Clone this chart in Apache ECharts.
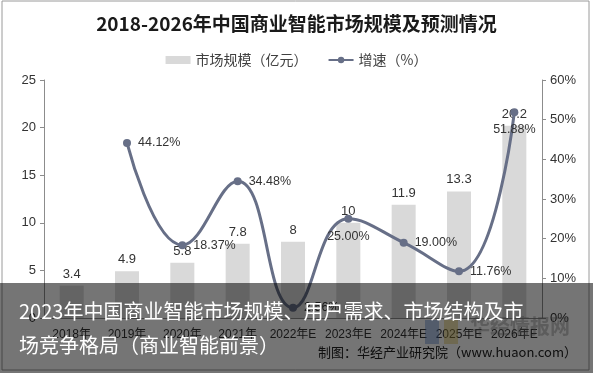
<!DOCTYPE html>
<html><head><meta charset="utf-8">
<script src="https://cdn.jsdelivr.net/npm/echarts@6/dist/echarts.min.js"></script>
<style>html,body{margin:0;padding:0;background:#fff}#c{width:593px;height:373px}</style>
</head><body><div id="c"></div>
<script>
const categories = ['2018年','2019年','2020年','2021年','2022年E','2023年E','2024年E','2025年E','2026年E'];
const marketSize = [3.4, 4.9, 5.8, 7.8, 8, 10, 11.9, 13.3, 20.2];
const growthRate = [null, 44.12, 18.37, 34.48, 2.56, 25.00, 19.00, 11.76, 51.88];
const growthLabelPos = [null, 'right', 'right', 'right', 'right', 'bottom', 'right', 'right', 'bottom'];
const leftTicks = [0, 25, 5];
const rightTicks = [0, 60, 10];
const titleText = '2018-2026年中国商业智能市场规模及预测情况';
const overlayLines = ['2023年中国商业智能市场规模、用户需求、市场结构及市', '场竞争格局（商业智能前景）'];
const sourceText = '制图：华经产业研究院（www.huaon.com）';

const FONT = '"Liberation Sans", "Noto Sans CJK SC", sans-serif';
const CJK = '"Noto Sans CJK SC", sans-serif';
const lineColor = '#676f87';

const chart = echarts.init(document.getElementById('c'));
chart.setOption({
  animation: false,
  backgroundColor: '#fff',
  title: {
    text: titleText, left: 'center', top: 9,
    textStyle: { fontFamily: CJK, fontSize: 19, fontWeight: 'bold', color: '#1a1a1a' }
  },
  legend: {
    top: 48, left: 'center', itemGap: 20, itemWidth: 25, itemHeight: 8,
    textStyle: { fontFamily: CJK, fontSize: 14, color: '#404040' },
    data: [
      { name: '市场规模（亿元）', icon: 'rect' },
      { name: '增速（%）' }
    ]
  },
  grid: { left: 44, right: 51, top: 80, bottom: 55 },
  xAxis: {
    type: 'category', data: categories,
    axisLine: { lineStyle: { color: '#8c8c8c' } },
    axisTick: { show: false },
    axisLabel: { fontFamily: FONT, fontSize: 12, color: '#333', margin: 11, interval: 0 }
  },
  yAxis: [
    {
      type: 'value', min: leftTicks[0], max: leftTicks[1], interval: leftTicks[2],
      axisLine: { show: true, lineStyle: { color: '#8c8c8c' } },
      axisTick: { show: true, length: 4, lineStyle: { color: '#8c8c8c' } },
      axisLabel: { fontFamily: FONT, fontSize: 13, color: '#333', margin: 8 },
      splitLine: { show: false }
    },
    {
      type: 'value', min: rightTicks[0], max: rightTicks[1], interval: rightTicks[2], position: 'right',
      axisLine: { show: true, lineStyle: { color: '#8c8c8c' } },
      axisTick: { show: true, length: 4, lineStyle: { color: '#8c8c8c' } },
      axisLabel: { fontFamily: FONT, fontSize: 13, color: '#333', margin: 8, formatter: '{value}%' },
      splitLine: { show: false }
    }
  ],
  series: [
    {
      name: '市场规模（亿元）', type: 'bar', data: marketSize, barWidth: 24,
      itemStyle: { color: '#d9d9d9' },
      label: { show: true, position: 'top', distance: 5, fontFamily: FONT, fontSize: 13, color: '#333' }
    },
    {
      name: '增速（%）', type: 'line', yAxisIndex: 1, smooth: 0.45, connectNulls: false,
      data: growthRate.map((v, i) => v === null ? null : {
        value: v,
        label: { position: growthLabelPos[i] }
      }),
      symbol: 'circle', symbolSize: 8,
      lineStyle: { color: lineColor, width: 3 },
      itemStyle: { color: lineColor },
      label: {
        show: true, distance: 7, fontFamily: FONT, fontSize: 12.5, color: '#333',
        formatter: p => p.value.toFixed(2) + '%'
      },
      z: 3
    }
  ],
  graphic: [
    { type: 'rect', z: 50, shape: { x: 2, y: 1, width: 587, height: 369 }, style: { fill: 'none', stroke: '#9a9a9a', lineWidth: 1 } },
    { type: 'text', z: 50, right: 16, top: 346, style: { text: sourceText, fontFamily: CJK, fontSize: 13, fill: '#222' } },
    { type: 'rect', z: 51, shape: { x: 425, y: 320, width: 14, height: 24 }, style: { fill: 'rgba(70,120,200,0.4)' } },
    { type: 'rect', z: 51, shape: { x: 444, y: 320, width: 14, height: 24 }, style: { fill: 'rgba(220,190,60,0.4)' } },
    { type: 'text', z: 51, left: 470, top: 316, style: { text: '华经情报网', fontFamily: CJK, fontSize: 20, fontWeight: 'bold', fill: 'rgba(120,120,120,0.4)' } },
    { type: 'rect', z: 100, shape: { x: 0, y: 283, width: 593, height: 90 }, style: { fill: 'rgba(0,0,0,0.54)' } },
    { type: 'text', z: 101, left: 19, top: 301, style: { text: overlayLines[0], fontFamily: CJK, fontSize: 20, fill: '#fff' } },
    { type: 'text', z: 101, left: 19, top: 335, style: { text: overlayLines[1], fontFamily: CJK, fontSize: 20, fill: '#fff' } }
  ]
});
</script>
</body></html>
